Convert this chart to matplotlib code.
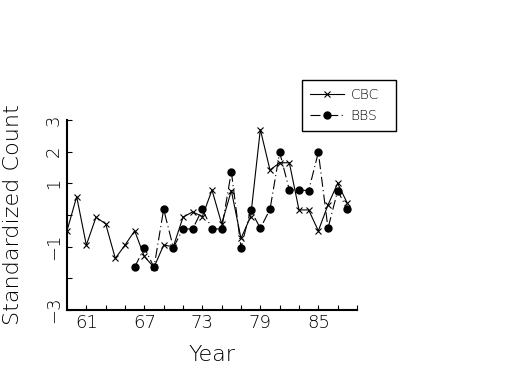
import numpy as np
import matplotlib
matplotlib.use("Agg")
import matplotlib.pyplot as plt
from matplotlib.legend_handler import HandlerLine2D

# standardized counts
cbc_years = list(range(59, 89))
cbc_values = [-0.50, 0.58, -0.95, -0.07, -0.28, -1.37, -0.95, -0.50, -1.31, -1.65,
              -0.95, -1.00, -0.07, 0.10, -0.05, 0.79, -0.28, 0.77, -0.74, -0.05,
              2.70, 1.42, 1.65, 1.65, 0.16, 0.16, -0.50, 0.32, 1.00, 0.37]

bbs_years = list(range(66, 89))
bbs_values = [-1.65, -1.03, -1.65, 0.18, -1.03, -0.44, -0.44, 0.18, -0.44, -0.44,
              1.37, -1.03, 0.16, -0.42, 0.18, 1.98, 0.79, 0.79, 0.77, 1.98,
              -0.42, 0.77, 0.18]

x_ticks = [61, 67, 73, 79, 85]
x_minor = list(range(59, 90, 2))
y_ticks = [-3, -1, 1, 2, 3]
y_minor = [-2, 0]


class MarkerFirst(HandlerLine2D):
    # put the legend marker at the left end of the handle line
    def get_xdata(self, legend, xdescent, ydescent, width, height, fontsize):
        xdata = np.array([-xdescent, -xdescent + width])
        return xdata, xdata[:1] + 2


plt.rcParams['font.family'] = 'DejaVu Sans'
plt.rcParams['font.weight'] = 'light'
plt.rcParams['axes.labelweight'] = 'light'

fig = plt.figure(figsize=(5.25, 3.75), dpi=100)
ax = fig.add_axes([67 / 525, 1 - 310 / 375, 290 / 525, 190 / 375])

ax.plot(cbc_years, cbc_values, color='black', lw=0.8, marker='x', ms=4,
        mew=0.8, label='CBC')
ax.plot(bbs_years, bbs_values, color='black', lw=0.8, marker='o', ms=5,
        linestyle=(0, (9, 3, 1, 3)), label='BBS')

ax.set_xlim(59, 89)
ax.set_ylim(-3, 3)
ax.set_xticks(x_ticks)
ax.set_xticks(x_minor, minor=True)
ax.set_yticks(y_ticks)
ax.set_yticks(y_minor, minor=True)
ax.set_yticklabels([f'{v}'.replace('-', '\u2212') for v in y_ticks],
                   rotation=90, va='center')

for side in ('top', 'right'):
    ax.spines[side].set_visible(False)
for side in ('left', 'bottom'):
    ax.spines[side].set_linewidth(1.5)

ax.tick_params(which='both', direction='in', length=3.5, width=0.8,
               labelsize=13, pad=3)

ax.set_xlabel('Year', fontsize=16, labelpad=9)
ax.set_ylabel('Standardized Count', fontsize=16, labelpad=16)

leg = ax.legend(loc='upper left', bbox_to_anchor=(0.81, 0.9526, 0.324, 0.258),
                mode='expand', borderaxespad=0, fontsize=10, handlelength=2.4,
                handletextpad=0.5, labelspacing=0.45, borderpad=0.6,
                fancybox=False, edgecolor='black', framealpha=1,
                handler_map={plt.Line2D: MarkerFirst(numpoints=1)})
leg.get_frame().set_linewidth(1.0)

fig.savefig('out.png', dpi=100)
